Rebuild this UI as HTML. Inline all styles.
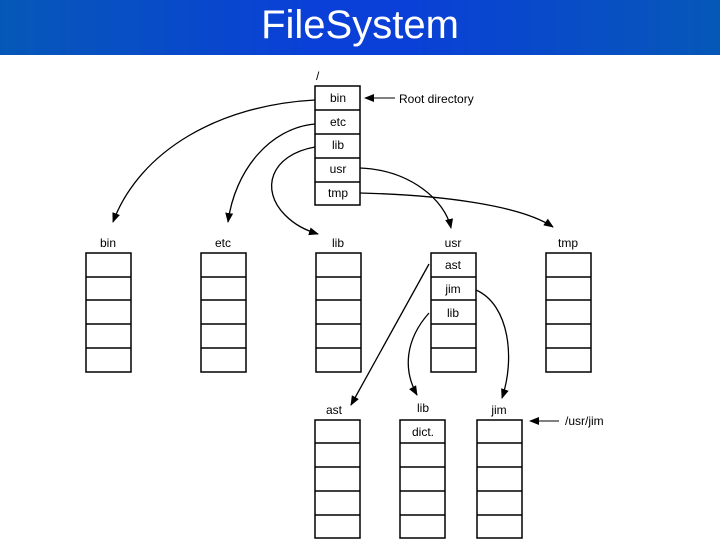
<!DOCTYPE html>
<html><head><meta charset="utf-8"><style>
html,body{margin:0;padding:0;width:720px;height:540px;overflow:hidden;background:#fff}
.hdr{position:absolute;left:0;top:0;width:720px;height:55px;background:linear-gradient(90deg,#0658b8 0%,#0a3fd8 45%,#0a3fd8 55%,#0658b8 100%)}
.hdr span{position:absolute;left:0;width:720px;text-align:center;top:3px;font:40px "Liberation Sans",sans-serif;color:#fff}
svg{position:absolute;left:0;top:0}
text{font-family:"Liberation Sans",sans-serif;font-size:12px;fill:#000}
</style></head><body>
<div class="hdr"><span>File<span style="position:static">System</span></span></div>
<svg width="720" height="540" viewBox="0 0 720 540">
<defs><marker id="a" markerWidth="10" markerHeight="8" refX="9" refY="4" orient="auto" markerUnits="userSpaceOnUse"><path d="M0,0 L10,4 L0,8 Z" fill="#000"/></marker></defs>
<g fill="none" stroke="#000" stroke-width="1.5">
<!-- root -->
<rect x="315" y="86" width="45" height="119"/>
<path d="M315 110H360M315 134H360M315 158H360M315 182H360"/>
<!-- mid row -->
<g id="col">
<rect x="86" y="253" width="45" height="119"/>
<path d="M86 277H131M86 300H131M86 324H131M86 348H131"/>
</g>
<use href="#col" x="115"/><use href="#col" x="230"/><use href="#col" x="345"/><use href="#col" x="460"/>
<!-- bottom row -->
<g id="colb">
<rect x="315" y="420" width="45" height="118"/>
<path d="M315 443H360M315 467H360M315 491H360M315 515H360"/>
</g>
<use href="#colb" x="85"/><use href="#colb" x="162"/>
</g>
<g fill="none" stroke="#000" stroke-width="1.3">
<path d="M315 100 C220 105 140 150 113 222" marker-end="url(#a)"/>
<path d="M315 124 C270 128 235 170 228 222" marker-end="url(#a)"/>
<path d="M315 147 C270 155 260 190 285 215 C295 225 305 230 318 234" marker-end="url(#a)"/>
<path d="M360 168 C410 170 445 200 451 228" marker-end="url(#a)"/>
<path d="M360 193 C440 195 520 205 553 227" marker-end="url(#a)"/>
<path d="M429 264 L351 405" marker-end="url(#a)"/>
<path d="M476 290 C510 305 515 360 502 398" marker-end="url(#a)"/>
<path d="M429 313 C405 340 403 370 417 395" marker-end="url(#a)"/>
</g>
<g fill="none" stroke="#000" stroke-width="1">
<path d="M395 98H365" marker-end="url(#a)"/>
<path d="M559 421H530" marker-end="url(#a)"/>
</g>
<g text-anchor="middle">
<text x="338" y="102">bin</text><text x="338" y="126">etc</text><text x="338" y="149">lib</text><text x="338" y="173">usr</text><text x="338" y="197">tmp</text>
<text x="108" y="247">bin</text><text x="223" y="247">etc</text><text x="338" y="247">lib</text><text x="453" y="247">usr</text><text x="568" y="247">tmp</text>
<text x="453" y="269">ast</text><text x="453" y="293">jim</text><text x="453" y="317">lib</text>
<text x="334" y="414">ast</text><text x="423" y="412">lib</text><text x="499" y="414">jim</text>
<text x="423" y="436">dict.</text>
</g>
<text x="316" y="80">/</text>
<text x="399" y="103">Root directory</text>
<text x="565" y="425">/usr/jim</text>
</svg>
</body></html>
